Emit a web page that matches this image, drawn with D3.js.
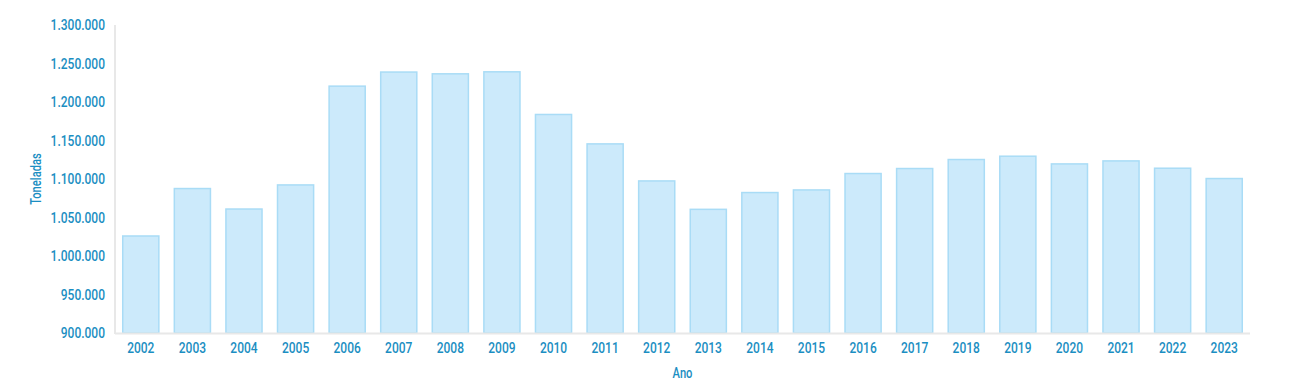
<!DOCTYPE html>
<html>
<head>
<meta charset="utf-8">
<script src="https://cdn.jsdelivr.net/npm/d3@7"></script>
<style>
  body { margin: 0; background: #fff; }
  text { font-family: Roboto, "DejaVu Sans", sans-serif; font-weight: 500; fill: #1b8ec2; }
</style>
</head>
<body>
<div id="main"></div>
<script>
var years = ['2002', '2003', '2004', '2005', '2006', '2007', '2008', '2009', '2010', '2011', '2012',
  '2013', '2014', '2015', '2016', '2017', '2018', '2019', '2020', '2021', '2022', '2023'];
var toneladas = [1026000, 1087600, 1061000, 1092300, 1220600, 1238900, 1236600, 1239200, 1183800, 1145600, 1097500,
  1060600, 1082400, 1085800, 1107100, 1113600, 1125300, 1129600, 1119600, 1123500, 1114000, 1100600];
var yTicks = [900000, 950000, 1000000, 1050000, 1100000, 1150000, 1200000, 1250000, 1300000];

var W = 1294, H = 389;
var mLeft = 115, mRight = 1250, mTop = 25, mBottom = 333;
var squeeze = 0.8; // fake a condensed face

var svg = d3.select('#main').append('svg').attr('width', W).attr('height', H);

var x = d3.scaleBand().domain(years).range([mLeft, mRight]).paddingInner(0.3).paddingOuter(0.15);
var y = d3.scaleLinear().domain([900000, 1300000]).range([mBottom, mTop]);

var fmt = function(d) { return d3.format(',')(d).replace(/,/g, '.'); };

// bars
svg.append('g').selectAll('rect')
  .data(years)
  .enter()
  .append('rect')
  .attr('x', function(d) { return x(d); })
  .attr('width', x.bandwidth())
  .attr('y', function(d, i) { return y(toneladas[i]); })
  .attr('height', function(d, i) { return mBottom - y(toneladas[i]); })
  .attr('fill', '#cceafb')
  .attr('stroke', '#a9dcf6')
  .attr('stroke-width', 1.5);

// axes
var yAxis = svg.append('g')
  .attr('transform', 'translate(' + mLeft + ',0)')
  .call(d3.axisLeft(y).tickValues(yTicks).tickFormat(fmt).tickSize(0).tickPadding(10));
yAxis.select('.domain').remove();
yAxis.selectAll('text')
  .attr('x', -10 / squeeze)
  .attr('transform', 'scale(' + squeeze + ',1)');

var xAxis = svg.append('g')
  .attr('transform', 'translate(0,' + mBottom + ')')
  .call(d3.axisBottom(x).tickSize(0).tickPadding(9));
xAxis.select('.domain').remove();
xAxis.selectAll('text')
  .attr('transform', 'scale(' + squeeze + ',1)');

svg.selectAll('g').attr('font-family', null).attr('font-size', null);
svg.selectAll('.tick text').attr('font-size', 15).attr('fill', '#1b8ec2');

svg.append('line')
  .attr('x1', mLeft).attr('x2', mLeft).attr('y1', mTop).attr('y2', mBottom + 1)
  .attr('stroke', '#e8e8e8').attr('stroke-width', 2);
svg.append('line')
  .attr('x1', mLeft).attr('x2', mRight).attr('y1', mBottom + 0.5).attr('y2', mBottom + 0.5)
  .attr('stroke', '#e8e8e8').attr('stroke-width', 2);

// titles
svg.append('text')
  .attr('transform', 'translate(' + ((mLeft + mRight) / 2) + ',378) scale(' + squeeze + ',1)')
  .attr('text-anchor', 'middle')
  .attr('font-size', 14)
  .text('Ano');

svg.append('text')
  .attr('transform', 'translate(41,' + ((mTop + mBottom) / 2) + ') rotate(-90) scale(' + squeeze + ',1)')
  .attr('text-anchor', 'middle')
  .attr('font-size', 14)
  .text('Toneladas');
</script>
</body>
</html>
